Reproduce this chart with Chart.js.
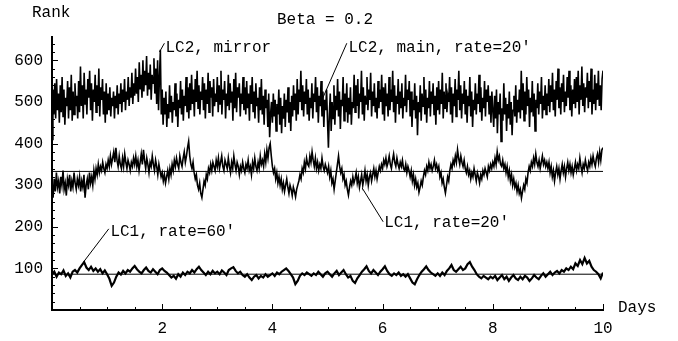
<!DOCTYPE html>
<html>
<head>
<meta charset="utf-8">
<script src="https://cdn.jsdelivr.net/npm/chart.js@4/dist/chart.umd.min.js"></script>
<style>
  html, body { margin: 0; padding: 0; background: #fff; }
  #wrap { width: 678px; height: 341px; }
</style>
</head>
<body>
<div id="wrap"><canvas id="chart" width="678" height="341"></canvas></div>
<script>
// days run 0..10, samples are evenly spaced over that span
const dayMax = 10
const rankMax = 656
const xTickLabels = [2, 4, 6, 8, 10]
const yTickLabels = [100, 200, 300, 400, 500, 600]

// LC2 (mirror + main), 60 samples a day, one row per half day
const lc2Rank = [
  410, 530, 470, 545, 460, 555, 480, 520, 450, 540, 475, 560, 465, 530, 445, 510, 490, 550, 460, 535, 480, 565, 455, 525, 470, 545, 490, 515, 460, 550,
  475, 585, 490, 540, 460, 570, 495, 530, 470, 555, 510, 575, 480, 545, 455, 530, 500, 565, 475, 540, 490, 580, 465, 535, 505, 555, 470, 525, 450, 545,
  470, 520, 480, 535, 465, 510, 490, 525, 460, 515, 485, 540, 470, 520, 495, 545, 475, 530, 500, 555, 480, 525, 505, 560, 490, 535, 510, 570, 495, 545,
  515, 580, 520, 560, 500, 595, 530, 565, 510, 600, 525, 575, 540, 610, 515, 570, 530, 590, 505, 565, 545, 605, 520, 580, 495, 600, 480, 560, 625, 470,
  530, 445, 510, 470, 525, 440, 495, 460, 540, 475, 515, 450, 500, 480, 545, 465, 520, 440, 505, 485, 550, 470, 530, 455, 515, 490, 560, 475, 535, 460,
  545, 480, 565, 495, 530, 465, 555, 500, 575, 485, 540, 470, 525, 505, 560, 480, 545, 460, 530, 495, 570, 475, 550, 510, 535, 465, 555, 490, 520, 500,
  560, 475, 540, 495, 575, 470, 530, 505, 550, 460, 520, 490, 565, 480, 545, 500, 525, 455, 555, 485, 570, 475, 535, 510, 545, 465, 520, 495, 560, 480,
  535, 470, 550, 485, 520, 455, 540, 495, 560, 475, 525, 460, 545, 490, 510, 450, 535, 480, 555, 470, 515, 445, 530, 485, 505, 440, 520, 415, 470, 500,
  450, 520, 465, 505, 430, 495, 470, 530, 445, 510, 425, 490, 460, 520, 440, 505, 475, 535, 450, 500, 430, 515, 465, 540, 480, 520, 455, 555, 470, 530,
  500, 575, 480, 540, 465, 525, 495, 555, 470, 530, 455, 510, 485, 545, 460, 520, 500, 560, 475, 535, 450, 515, 490, 550, 465, 525, 440, 505, 480, 530,
  455, 390, 470, 520, 430, 500, 460, 540, 445, 515, 480, 555, 465, 525, 435, 505, 490, 560, 455, 520, 475, 545, 450, 510, 470, 535, 445, 500, 485, 565,
  475, 540, 490, 555, 460, 520, 500, 575, 470, 535, 455, 515, 495, 560, 480, 530, 505, 570, 465, 525, 490, 545, 475, 510, 460, 550, 485, 530, 500, 565,
  470, 535, 455, 545, 490, 520, 465, 560, 480, 530, 500, 575, 475, 540, 450, 515, 495, 555, 470, 525, 485, 545, 460, 510, 490, 565, 475, 530, 505, 550,
  465, 525, 440, 505, 480, 545, 460, 515, 420, 500, 475, 540, 455, 520, 490, 560, 470, 530, 450, 510, 485, 550, 465, 525, 495, 545, 470, 515, 445, 535,
  480, 550, 470, 530, 495, 570, 460, 525, 485, 545, 475, 515, 500, 560, 470, 535, 450, 520, 490, 555, 465, 530, 505, 575, 480, 540, 460, 520, 495, 550,
  470, 530, 450, 515, 490, 560, 465, 525, 440, 505, 480, 545, 470, 520, 495, 565, 475, 535, 455, 510, 485, 550, 465, 530, 500, 540, 470, 515, 450, 525,
  480, 440, 515, 460, 530, 425, 500, 470, 520, 405, 485, 455, 545, 470, 510, 430, 495, 460, 525, 445, 500, 420, 480, 515, 465, 540, 450, 505, 475, 530,
  460, 575, 480, 545, 455, 525, 470, 560, 490, 530, 440, 510, 475, 550, 465, 520, 430, 505, 485, 545, 470, 525, 495, 560, 460, 515, 480, 540, 470, 520,
  490, 555, 475, 540, 500, 570, 480, 530, 465, 550, 505, 580, 485, 535, 470, 545, 500, 565, 475, 525, 490, 560, 510, 575, 480, 540, 465, 530, 495, 555,
  485, 560, 500, 575, 470, 540, 505, 585, 490, 545, 475, 535, 510, 570, 485, 550, 500, 580, 470, 530, 495, 565, 480, 545, 505, 575, 490, 540, 480, 555, 575
]

// LC1, rate 20', 50 samples a day, one row per half day
const lc1Rate20Rank = [
  300, 270, 315, 285, 330, 295, 310, 280, 320, 300, 335, 290, 305, 275, 315, 300, 325, 285, 310, 295, 330, 305, 290, 315, 300,
  320, 285, 310, 295, 325, 270, 300, 315, 290, 330, 305, 320, 300, 335, 315, 340, 325, 350, 330, 345, 335, 355, 340, 330, 350,
  340, 360, 345, 370, 350, 365, 380, 355, 390, 360, 345, 370, 350, 340, 365, 345, 375, 355, 340, 360, 350, 335, 355, 345, 365,
  350, 370, 345, 360, 335, 355, 375, 350, 385, 360, 340, 365, 350, 330, 355, 345, 370, 350, 335, 360, 345, 325, 350, 335, 320,
  330, 310, 325, 305, 320, 335, 315, 340, 325, 350, 335, 360, 345, 365, 350, 340, 370, 355, 345, 365, 380, 355, 370, 390, 405,
  370, 350, 340, 355, 330, 315, 325, 300, 290, 305, 280, 270, 290, 310, 300, 325, 315, 340, 330, 350, 335, 355, 345, 335, 360,
  345, 365, 340, 355, 370, 345, 335, 360, 350, 340, 365, 345, 330, 355, 340, 370, 350, 335, 355, 345, 325, 345, 335, 355, 340,
  330, 350, 340, 360, 335, 345, 325, 355, 340, 365, 345, 335, 355, 340, 370, 350, 360, 345, 375, 355, 385, 365, 390, 400, 370,
  345, 330, 340, 315, 330, 305, 320, 300, 315, 290, 305, 285, 300, 315, 295, 280, 300, 290, 275, 295, 285, 272, 290, 300, 310,
  325, 315, 340, 330, 355, 340, 365, 350, 345, 370, 355, 380, 360, 345, 365, 340, 355, 335, 350, 340, 365, 345, 335, 350, 340,
  330, 345, 320, 335, 305, 315, 290, 310, 330, 350, 370, 345, 330, 340, 315, 325, 300, 310, 290, 276, 295, 310, 300, 320, 305,
  315, 330, 305, 320, 295, 310, 325, 300, 315, 335, 310, 325, 300, 320, 330, 310, 325, 340, 320, 335, 315, 330, 345, 335, 350,
  340, 360, 350, 365, 345, 355, 370, 350, 340, 360, 375, 355, 345, 365, 350, 340, 355, 345, 360, 340, 335, 350, 330, 345, 335,
  320, 335, 310, 325, 300, 315, 295, 305, 283, 295, 310, 300, 320, 335, 325, 345, 335, 355, 340, 350, 335, 345, 360, 340, 350,
  335, 345, 320, 330, 305, 315, 295, 281, 300, 320, 310, 335, 350, 340, 360, 350, 370, 355, 385, 365, 350, 370, 355, 345, 360,
  340, 330, 345, 325, 335, 315, 330, 320, 340, 325, 310, 330, 320, 305, 325, 315, 335, 325, 340, 330, 320, 345, 335, 350, 340,
  355, 345, 365, 350, 380, 360, 370, 350, 345, 360, 340, 350, 330, 345, 320, 335, 310, 325, 300, 315, 295, 305, 285, 300, 280,
  290, 269, 285, 300, 290, 315, 305, 330, 345, 335, 355, 345, 365, 350, 375, 355, 345, 360, 340, 355, 370, 350, 360, 345, 355,
  340, 355, 330, 345, 320, 335, 310, 330, 345, 325, 340, 315, 335, 350, 330, 345, 320, 340, 355, 335, 350, 330, 345, 325, 340,
  355, 335, 350, 340, 365, 345, 330, 350, 340, 360, 345, 335, 355, 345, 365, 350, 370, 355, 345, 365, 375, 355, 380, 360, 385, 390
]

// LC1, rate 60', 24 samples a day, one row per day
const lc1Rate60Rank = [
  85, 92, 80, 90, 86, 95, 82, 88, 78, 92, 96, 90, 100, 108, 115, 102, 96, 104, 94, 100, 92, 98, 88, 95,
  86, 75, 58, 66, 80, 90, 85, 94, 88, 96, 92, 100, 106, 98, 92, 88, 96, 102, 94, 90, 98, 92, 86, 96,
  100, 94, 90, 84, 78, 82, 75, 86, 80, 90, 84, 92, 88, 96, 90, 98, 104, 96, 90, 84, 92, 86, 94, 88,
  92, 86, 95, 90, 84, 96, 100, 103, 94, 88, 92, 84, 80, 86, 78, 72, 80, 84, 76, 82, 78, 86, 80, 84,
  88, 82, 90, 86, 92, 96, 100, 94, 86, 78, 62, 70, 82, 88, 84, 90, 86, 82, 88, 84, 92, 86, 80, 88,
  92, 86, 80, 88, 94, 84, 90, 96, 86, 78, 82, 70, 65, 76, 84, 92, 98, 105, 94, 88, 96, 90, 84, 92,
  98, 105, 94, 86, 82, 88, 84, 90, 82, 86, 80, 86, 76, 66, 62, 74, 84, 92, 98, 105, 96, 90, 86, 82,
  88, 82, 90, 84, 94, 100, 108, 96, 92, 98, 104, 96, 100, 110, 115, 104, 96, 86, 80, 76, 82, 78, 74, 80,
  76, 82, 72, 78, 84, 74, 80, 70, 78, 84, 76, 72, 80, 74, 82, 78, 70, 76, 84, 78, 74, 82, 88, 80,
  86, 92, 84, 90, 94, 88, 96, 92, 100, 96, 104, 98, 112, 106, 120, 110, 125, 112, 118, 104, 96, 92, 86, 76, 90
]

const meanRate20 = 333
const meanRate60 = 86

// labels with leader lines, in data units: text anchor, then line from -> to
const notes = [
  { text: 'LC2, mirror', at: [2.06, 630], line: [[2.04, 641], [1.95, 620]] },
  { text: "LC2, main, rate=20'", at: [5.38, 630], line: [[5.35, 641], [4.9, 505]] },
  { text: "LC1, rate=20'", at: [6.03, 209], line: [[6.01, 212], [5.63, 293]] },
  { text: "LC1, rate=60'", at: [1.06, 188], line: [[1.03, 195], [0.57, 115]] }
]

const FONT = "16px 'Liberation Mono', 'Courier New', monospace"

const toPoints = (vals) => vals.map((v, i) => ({ x: i * dayMax / (vals.length - 1), y: v }))
const flat = (v) => [{ x: 0, y: v }, { x: dayMax, y: v }]

const lineSet = (data, width) => ({
  data,
  borderColor: '#000',
  borderWidth: width,
  pointRadius: 0,
  tension: 0,
  fill: false
})

const axesDecor = {
  id: 'axesDecor',
  afterDraw(chart) {
    const { ctx, scales: { x, y }, chartArea } = chart
    ctx.save()
    ctx.strokeStyle = '#000'
    ctx.lineWidth = 1
    // inward ticks: x every 0.5 day, long on labelled days
    for (let d = 0.5; d <= dayMax + 0.001; d += 0.5) {
      const px = Math.round(x.getPixelForValue(d)) + 0.5
      const len = xTickLabels.includes(d) ? 6 : 3
      ctx.beginPath()
      ctx.moveTo(px, chartArea.bottom)
      ctx.lineTo(px, chartArea.bottom - len)
      ctx.stroke()
    }
    // inward ticks: y every 20, long on the hundreds
    for (let r = 20; r < rankMax; r += 20) {
      const py = Math.round(y.getPixelForValue(r)) + 0.5
      const len = r % 100 === 0 ? 6 : 3
      ctx.beginPath()
      ctx.moveTo(chartArea.left, py)
      ctx.lineTo(chartArea.left + len, py)
      ctx.stroke()
    }

    ctx.fillStyle = '#000'
    ctx.font = FONT
    ctx.textBaseline = 'middle'
    ctx.textAlign = 'left'
    ctx.fillText('Rank', 32, 13)
    ctx.fillText('Beta = 0.2', 277, 20)
    ctx.fillText('Days', x.right + 15, chartArea.bottom - 2)

    for (const n of notes) {
      const [a, b] = n.line
      ctx.beginPath()
      ctx.moveTo(x.getPixelForValue(a[0]), y.getPixelForValue(a[1]))
      ctx.lineTo(x.getPixelForValue(b[0]), y.getPixelForValue(b[1]))
      ctx.stroke()
      ctx.fillText(n.text, x.getPixelForValue(n.at[0]), y.getPixelForValue(n.at[1]))
    }
    ctx.restore()
  }
}

new Chart(document.getElementById('chart'), {
  type: 'line',
  data: {
    datasets: [
      lineSet(flat(meanRate20), 1),
      lineSet(flat(meanRate60), 1),
      lineSet(toPoints(lc2Rank), 1.6),
      lineSet(toPoints(lc1Rate20Rank), 1.6),
      lineSet(toPoints(lc1Rate60Rank), 2.2)
    ]
  },
  options: {
    responsive: false,
    animation: false,
    events: [],
    layout: { padding: { left: 0, top: 37, right: 75, bottom: 0 } },
    plugins: { legend: { display: false }, tooltip: { enabled: false }, title: { display: false } },
    scales: {
      x: {
        type: 'linear',
        min: 0,
        max: dayMax,
        afterBuildTicks: (s) => { s.ticks = xTickLabels.map((v) => ({ value: v })) },
        afterFit: (s) => { s.height = 31 },
        grid: { display: false, drawTicks: false },
        border: { display: true, color: '#000', width: 2 },
        ticks: { color: '#000', font: { family: "'Liberation Mono', monospace", size: 16 }, padding: 9, maxRotation: 0 }
      },
      y: {
        type: 'linear',
        min: 0,
        max: rankMax,
        afterBuildTicks: (s) => { s.ticks = yTickLabels.map((v) => ({ value: v })) },
        afterFit: (s) => { s.width = 52 },
        grid: { display: false, drawTicks: false },
        border: { display: true, color: '#000', width: 2 },
        ticks: { color: '#000', font: { family: "'Liberation Mono', monospace", size: 16 }, padding: 9 }
      }
    }
  },
  plugins: [axesDecor]
})
</script>
</body>
</html>
